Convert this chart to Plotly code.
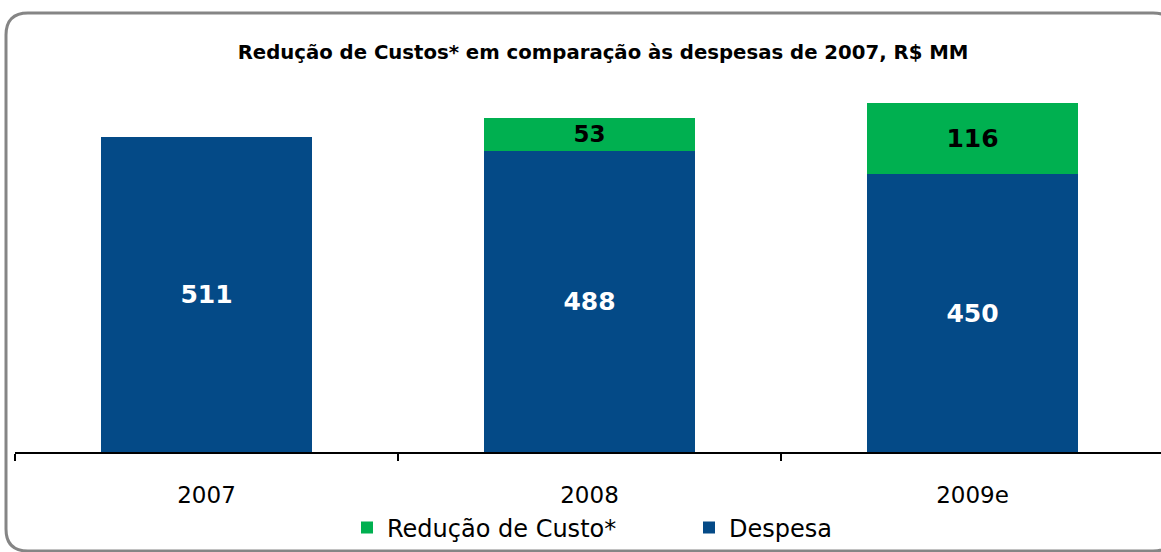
import plotly.graph_objects as go

categories = ["2007", "2008", "2009e"]
despesa = [511, 488, 450]
reducao = [None, 53, 116]
despesa_labels = ["511", "488", "450"]
reducao_labels = ["", "53", "116"]

W, H = 1161, 552
ML, MR, MT, MB = 15, 0, 80, 100
PW, PH = W - ML - MR, H - MT - MB
CAT_PX = 383.0


def px(x):
    return (x - ML) / PW


def py(y):
    return (H - MB - y) / PH


def rounded_rect(x0, y0, x1, y1, r):
    p = lambda x, y: f"{px(x):.5f},{py(y):.5f}"
    return (
        f"M {p(x0 + r, y0)} L {p(x1 - r, y0)} Q {p(x1, y0)} {p(x1, y0 + r)} "
        f"L {p(x1, y1 - r)} Q {p(x1, y1)} {p(x1 - r, y1)} "
        f"L {p(x0 + r, y1)} Q {p(x0, y1)} {p(x0, y1 - r)} "
        f"L {p(x0, y0 + r)} Q {p(x0, y0)} {p(x0 + r, y0)} Z"
    )


BLUE = "#044A87"
GREEN = "#00B050"

fig = go.Figure()
fig.add_trace(go.Bar(
    x=categories, y=despesa, name="Despesa",
    marker=dict(color=BLUE, line=dict(width=0)),
    text=despesa_labels, textposition="inside", insidetextanchor="middle",
    textfont=dict(family="DejaVu Sans", size=25, color="white", weight="bold"),
))
fig.add_trace(go.Bar(
    x=categories, y=reducao, name="Redução de Custo*",
    marker=dict(color=GREEN, line=dict(width=0)),
    text=reducao_labels, textposition="inside", insidetextanchor="middle",
    textfont=dict(family="DejaVu Sans", size=25, color="black", weight="bold"),
))

fig.update_layout(
    width=W, height=H,
    margin=dict(l=ML, r=MR, t=MT, b=MB),
    paper_bgcolor="white", plot_bgcolor="white",
    barmode="stack", bargap=0.447,
    showlegend=True,
    title=dict(
        text="<b>Redução de Custos* em comparação às despesas de 2007, R$ MM</b>",
        x=603 / W, xanchor="center", y=1 - 52 / H, yanchor="middle",
        font=dict(family="DejaVu Sans", size=19.7, color="black"),
    ),
    xaxis=dict(
        type="category", range=[-0.5, -0.5 + PW / CAT_PX],
        showline=True, linecolor="black", linewidth=2,
        ticks="outside", tickson="boundaries", ticklen=7, tickwidth=1.5, tickcolor="black",
        tickfont=dict(family="DejaVu Sans", size=23, color="black"),
        ticklabelstandoff=21,
        showgrid=False, zeroline=False,
    ),
    yaxis=dict(range=[0, (H - MB - MT) / 0.617], visible=False, showgrid=False, zeroline=False),
    legend=dict(
        orientation="h", traceorder="reversed",
        x=px(347), xanchor="left", y=py(528), yanchor="middle",
        font=dict(family="DejaVu Sans", size=24, color="black"),
        entrywidth=297,
        bgcolor="rgba(0,0,0,0)",
    ),
    shapes=[dict(
        type="path", xref="paper", yref="paper",
        path=rounded_rect(6, 13, 1175, 551, 22),
        line=dict(color="#858585", width=3), fillcolor="rgba(0,0,0,0)",
        layer="below",
    )],
)

fig.write_html(
    "out.html",
    config={"displayModeBar": False},
    post_script="document.body.style.margin='0';document.body.style.overflow='hidden';",
)
